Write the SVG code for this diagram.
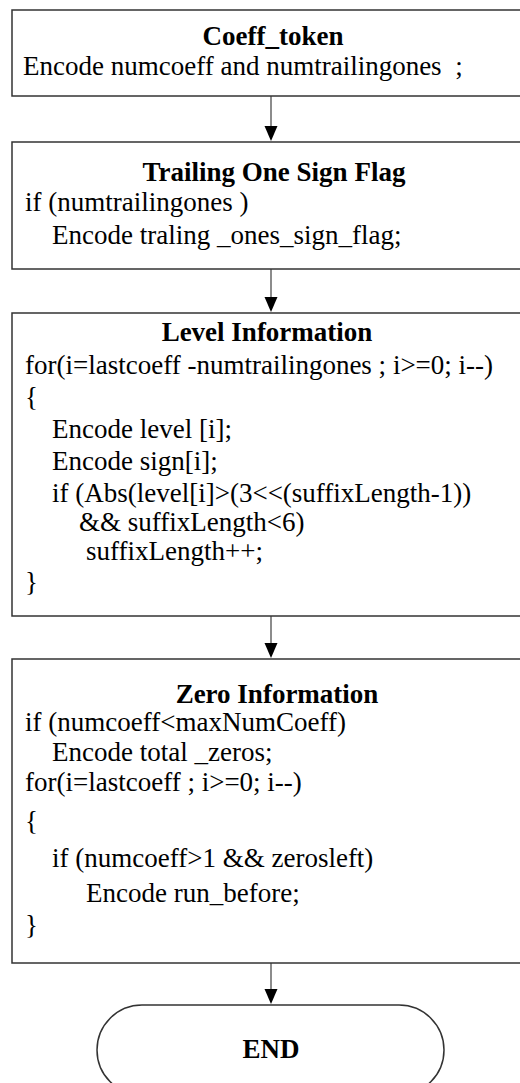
<svg xmlns="http://www.w3.org/2000/svg" width="520" height="1083" viewBox="0 0 520 1083">
<defs>
<style>
.box{fill:#fff;stroke:#333;stroke-width:1.5}
.t{font-family:"Liberation Serif","Times New Roman",serif;font-size:27px;fill:#000}
.h{font-family:"Liberation Serif","Times New Roman",serif;font-size:27px;font-weight:bold;fill:#000;text-anchor:middle}
.c{stroke:#666;stroke-width:1.5;fill:none}
.a{fill:#000}
</style>
</defs>
<rect width="520" height="1083" fill="#fff"/>
<g id="connectors">
<line class="c" x1="271" y1="96" x2="271" y2="126"/>
<path class="a" d="M264.5,126 L277.5,126 L271,141 Z"/>
<line class="c" x1="271" y1="269" x2="271" y2="297"/>
<path class="a" d="M264.5,297 L277.5,297 L271,312 Z"/>
<line class="c" x1="271" y1="616" x2="271" y2="643"/>
<path class="a" d="M264.5,643 L277.5,643 L271,658 Z"/>
<line class="c" x1="271" y1="963" x2="271" y2="989"/>
<path class="a" d="M264.5,989 L277.5,989 L271,1004 Z"/>
</g>
<g id="coeff_token">
<rect class="box" x="12" y="10" width="520" height="86"/>
<text class="h" x="273" y="45">Coeff_token</text>
<text class="t" x="23" y="75" xml:space="preserve">Encode numcoeff and numtrailingones  ;</text>
</g>
<g id="trailing_one">
<rect class="box" x="12" y="142" width="520" height="127"/>
<text class="h" x="274" y="181">Trailing One Sign Flag</text>
<text class="t" x="25" y="211">if (numtrailingones )</text>
<text class="t" x="52" y="244">Encode traling _ones_sign_flag;</text>
</g>
<g id="level_info">
<rect class="box" x="12" y="313" width="520" height="303"/>
<text class="h" x="267" y="341">Level Information</text>
<text class="t" x="25" y="374">for(i=lastcoeff -numtrailingones ; i&gt;=0; i--)</text>
<text class="t" x="25" y="406">{</text>
<text class="t" x="52" y="438">Encode level [i];</text>
<text class="t" x="52" y="470">Encode sign[i];</text>
<text class="t" x="52" y="502">if (Abs(level[i]&gt;(3&lt;&lt;(suffixLength-1))</text>
<text class="t" x="79" y="531">&amp;&amp; suffixLength&lt;6)</text>
<text class="t" x="86" y="560">suffixLength++;</text>
<text class="t" x="25" y="591">}</text>
</g>
<g id="zero_info">
<rect class="box" x="12" y="659" width="520" height="304"/>
<text class="h" x="277" y="703">Zero Information</text>
<text class="t" x="25" y="731">if (numcoeff&lt;maxNumCoeff)</text>
<text class="t" x="52" y="761">Encode total _zeros;</text>
<text class="t" x="25" y="791">for(i=lastcoeff ; i&gt;=0; i--)</text>
<text class="t" x="25" y="830">{</text>
<text class="t" x="52" y="867">if (numcoeff&gt;1 &amp;&amp; zerosleft)</text>
<text class="t" x="86" y="902">Encode run_before;</text>
<text class="t" x="25" y="934">}</text>
</g>
<g id="end">
<rect class="box" x="97" y="1005" width="347" height="90" rx="45" ry="45"/>
<text class="h" x="271" y="1058">END</text>
</g>
</svg>
